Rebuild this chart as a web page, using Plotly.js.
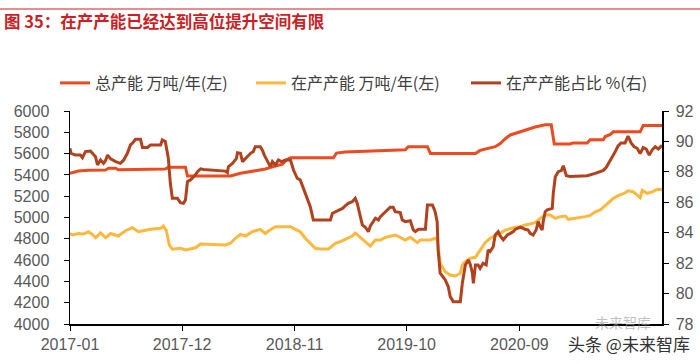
<!DOCTYPE html>
<html><head><meta charset="utf-8">
<script src="https://cdn.plot.ly/plotly-3.0.1.min.js"></script>
<style>html,body{margin:0;padding:0;background:#fff;}#chart{width:700px;height:363px;}</style>
</head><body><div id="chart"></div>
<script>
// 总产能 万吨/年(左)
const totalDates = ['2017-01-01','2017-01-17','2017-01-26','2017-02-25','2017-04-17','2017-04-26','2017-05-17','2017-05-25','2017-07-30','2017-08-05','2017-10-12','2017-10-21','2017-12-11','2017-12-17','2018-04-24','2018-05-24','2018-07-07','2018-08-06','2018-08-27','2018-09-26','2018-10-08','2018-10-20','2019-02-25','2019-03-06','2019-04-01','2019-07-15','2019-09-27','2019-10-06','2019-12-02','2019-12-11','2020-04-23','2020-05-07','2020-06-06','2020-06-21','2020-07-06','2020-07-21','2020-08-05','2020-08-20','2020-09-18','2020-10-18','2020-11-17','2020-12-05','2020-12-14','2021-01-30','2021-02-08','2021-03-22','2021-03-31','2021-05-09','2021-05-15','2021-05-30','2021-06-08','2021-08-27','2021-09-05','2021-10-31'];
const totalValues = [5415,5425,5437,5443,5446,5462,5462,5448,5448,5455,5455,5472,5472,5390,5390,5415,5437,5455,5475,5500,5540,5560,5560,5605,5615,5630,5635,5665,5665,5600,5600,5630,5655,5665,5695,5740,5775,5790,5820,5850,5870,5870,5690,5690,5700,5700,5730,5730,5760,5780,5805,5805,5865,5865];

// 在产产能 万吨/年(左)
const activeDates = ['2017-01-01','2017-01-08','2017-01-26','2017-02-10','2017-02-25','2017-03-09','2017-03-18','2017-04-02','2017-04-17','2017-05-02','2017-05-25','2017-06-15','2017-07-06','2017-07-24','2017-08-14','2017-08-29','2017-09-28','2017-10-06','2017-10-15','2017-10-24','2017-11-02','2017-11-26','2017-12-11','2018-01-10','2018-01-25','2018-03-25','2018-04-09','2018-04-24','2018-05-09','2018-05-24','2018-06-08','2018-06-28','2018-07-22','2018-08-06','2018-08-15','2018-09-05','2018-10-20','2018-11-04','2018-11-18','2018-12-03','2018-12-18','2019-01-02','2019-01-17','2019-02-10','2019-03-03','2019-03-18','2019-04-01','2019-04-22','2019-05-01','2019-05-10','2019-05-22','2019-06-03','2019-06-15','2019-06-30','2019-07-15','2019-07-30','2019-08-13','2019-08-28','2019-09-12','2019-09-27','2019-10-12','2019-10-21','2019-11-02','2019-11-11','2019-12-11','2019-12-25','2019-12-31','2020-01-09','2020-01-24','2020-02-08','2020-02-23','2020-03-09','2020-03-15','2020-03-24','2020-04-08','2020-04-23','2020-05-07','2020-05-22','2020-06-06','2020-06-21','2020-07-06','2020-07-21','2020-08-05','2020-08-20','2020-09-04','2020-09-18','2020-10-03','2020-10-18','2020-11-02','2020-11-17','2020-12-02','2020-12-17','2021-01-01','2021-01-16','2021-01-25','2021-02-14','2021-03-16','2021-03-31','2021-04-15','2021-04-30','2021-05-15','2021-05-30','2021-06-08','2021-06-22','2021-07-10','2021-07-22','2021-08-06','2021-08-18','2021-08-27','2021-09-02','2021-09-17','2021-10-02','2021-10-17','2021-10-31'];
const activeValues = [4850,4836,4850,4845,4866,4840,4810,4855,4810,4850,4826,4876,4904,4867,4880,4889,4898,4920,4880,4740,4702,4711,4695,4716,4751,4748,4742,4758,4805,4842,4826,4867,4889,4850,4873,4914,4914,4889,4866,4805,4758,4711,4704,4704,4758,4773,4795,4826,4855,4830,4790,4758,4732,4789,4789,4814,4826,4836,4814,4789,4814,4790,4764,4789,4789,4805,4790,4570,4491,4460,4451,4476,4554,4585,4617,4626,4695,4764,4805,4826,4851,4882,4898,4908,4914,4930,4939,4951,4992,5023,5023,4992,5008,5014,4983,4992,5008,5020,5054,5070,5110,5150,5180,5205,5227,5250,5242,5211,5185,5255,5227,5240,5265,5262];

// 在产产能占比 %(右)
const ratioDates = ['2017-01-01','2017-01-04','2017-01-17','2017-02-01','2017-02-07','2017-02-16','2017-03-03','2017-03-18','2017-03-24','2017-04-02','2017-04-11','2017-04-17','2017-04-23','2017-05-02','2017-05-17','2017-05-31','2017-06-09','2017-06-21','2017-06-30','2017-07-06','2017-07-15','2017-07-30','2017-08-05','2017-08-20','2017-08-29','2017-09-28','2017-10-03','2017-10-12','2017-10-21','2017-10-27','2017-11-02','2017-11-17','2017-11-26','2017-12-05','2017-12-11','2017-12-17','2017-12-26','2018-01-04','2018-01-10','2018-01-16','2018-01-25','2018-02-03','2018-02-23','2018-03-10','2018-04-09','2018-04-15','2018-04-18','2018-04-30','2018-05-12','2018-05-15','2018-05-24','2018-05-30','2018-06-08','2018-06-23','2018-07-01','2018-07-07','2018-07-22','2018-07-28','2018-08-03','2018-08-12','2018-08-21','2018-08-27','2018-09-05','2018-09-14','2018-09-23','2018-10-05','2018-10-20','2018-10-29','2018-11-09','2018-11-18','2018-11-27','2018-12-09','2018-12-18','2018-12-27','2019-02-16','2019-02-22','2019-03-03','2019-03-18','2019-03-24','2019-04-01','2019-04-10','2019-04-22','2019-05-01','2019-05-07','2019-05-16','2019-05-22','2019-05-31','2019-06-09','2019-06-15','2019-06-30','2019-07-09','2019-07-15','2019-07-30','2019-08-13','2019-08-22','2019-08-28','2019-09-12','2019-09-18','2019-09-27','2019-10-12','2019-10-21','2019-10-27','2019-11-05','2019-11-26','2019-12-02','2019-12-17','2019-12-25','2019-12-31','2020-01-03','2020-01-09','2020-01-24','2020-02-02','2020-02-08','2020-02-17','2020-03-09','2020-03-15','2020-03-24','2020-04-02','2020-04-08','2020-04-14','2020-04-17','2020-04-23','2020-05-01','2020-05-07','2020-05-16','2020-05-25','2020-05-31','2020-06-06','2020-06-15','2020-06-21','2020-06-30','2020-07-06','2020-07-15','2020-07-27','2020-08-05','2020-08-14','2020-08-20','2020-09-04','2020-09-18','2020-09-27','2020-10-03','2020-10-12','2020-10-21','2020-10-27','2020-11-02','2020-11-08','2020-11-11','2020-11-17','2020-11-23','2020-12-08','2020-12-11','2020-12-17','2020-12-26','2021-01-04','2021-01-10','2021-01-19','2021-01-30','2021-03-22','2021-04-15','2021-04-30','2021-05-09','2021-05-18','2021-05-27','2021-06-05','2021-06-13','2021-06-22','2021-07-01','2021-07-13','2021-07-22','2021-07-31','2021-08-09','2021-08-18','2021-08-27','2021-09-05','2021-09-14','2021-09-23','2021-10-02','2021-10-11','2021-10-20','2021-10-31'];
const ratioValues = [89.55,89.22,89.1,89.1,88.93,89.33,89.37,89.0,88.45,88.78,88.56,88.75,89.1,88.85,88.67,88.56,88.75,89.22,89.77,89.88,90.14,90.14,89.6,89.6,89.77,89.77,90.1,90.0,88.9,87.25,86.26,86.26,85.98,85.93,86.15,87.36,87.47,87.64,87.8,88.01,88.2,88.15,88.12,88.06,88.05,87.95,88.34,88.56,88.89,89.26,89.22,88.67,88.89,89.22,89.33,89.65,89.65,89.44,89.1,88.67,88.34,88.67,88.45,88.78,88.67,88.78,88.78,88.12,87.58,87.47,86.92,86.26,85.71,84.84,84.84,85.28,85.38,85.5,85.6,85.76,85.93,86.04,86.26,85.93,85.0,84.51,84.36,84.07,84.44,84.95,84.84,85.06,85.38,85.67,85.67,85.38,85.32,84.84,84.73,84.79,84.18,84.07,84.23,84.23,85.82,85.82,85.38,84.73,82.87,81.34,80.9,80.46,79.8,79.47,79.47,80.68,81.88,82.21,81.9,81.34,80.68,81.88,81.88,81.66,81.99,81.88,82.87,82.76,83.08,83.85,84.07,83.79,83.53,83.85,83.96,84.07,84.23,84.36,84.23,84.18,83.96,83.85,84.18,84.73,84.4,84.18,84.73,85.38,85.5,85.6,86.59,87.68,88.01,88.08,88.4,87.75,87.7,87.75,87.9,88.0,88.1,88.3,88.7,89.0,89.3,89.7,89.9,89.9,90.35,89.9,89.65,89.55,89.2,89.6,89.5,89.1,89.45,89.65,89.5,89.75];

const seriesNames = ['总产能 万吨/年(左)', '在产产能 万吨/年(左)', '在产产能占比 %(右)'];
const xTickVals = ['2017-01-01','2017-12-01','2018-11-01','2019-10-01','2020-09-01'];
const xTickText = ['2017-01','2017-12','2018-11','2019-10','2020-09'];
const titleText = '图 35：在产产能已经达到高位提升空间有限';
const watermarkText = '头条 @未来智库';
const logoText = '未来智库';

const tickFont = {family: 'Liberation Sans, Arial, sans-serif', size: 16, color: '#595959'};
const cjk = 'Noto Sans CJK SC, sans-serif';

const traces = [
  {x: totalDates, y: totalValues, name: seriesNames[0], type: 'scatter', mode: 'lines',
   line: {color: '#EE4A1F', width: 3}, yaxis: 'y', legend: 'legend'},
  {x: activeDates, y: activeValues, name: seriesNames[1], type: 'scatter', mode: 'lines',
   line: {color: '#FFB83D', width: 3}, yaxis: 'y', legend: 'legend2'},
  {x: ratioDates, y: ratioValues, name: seriesNames[2], type: 'scatter', mode: 'lines',
   line: {color: '#B2421E', width: 3}, yaxis: 'y2', legend: 'legend3'}
];

function legendAt(px) {
  return {orientation: 'h', xref: 'container', yref: 'container', x: px/700, xanchor: 'left', y: 1 - 83/363, yanchor: 'middle',
          font: {family: cjk, size: 16, color: '#404040'}, bgcolor: 'rgba(0,0,0,0)'};
}

const layout = {
  width: 700, height: 363,
  margin: {l: 70, r: 38, t: 111, b: 39, pad: 0},
  paper_bgcolor: '#fff', plot_bgcolor: '#fff',
  showlegend: true,
  title: {text: titleText, x: 4/700, xanchor: 'left', xref: 'container', y: 1 - 22/363, yanchor: 'middle', yref: 'container',
          font: {family: cjk, size: 16.5, color: '#CC1E24', weight: 'bold'}},
  legend: legendAt(55),
  legend2: legendAt(251),
  legend3: legendAt(466),
  xaxis: {type: 'date', tickvals: xTickVals, ticktext: xTickText, showgrid: false, zeroline: false,
          showline: true, linecolor: '#000', linewidth: 1.5, ticks: 'outside', ticklen: 5, tickcolor: '#000',
          tickfont: tickFont, autorange: true},
  yaxis: {range: [4000, 6000], dtick: 200, showgrid: false, zeroline: false, showline: true, linecolor: '#000', linewidth: 1.5,
          ticks: 'outside', ticklen: 5, tickcolor: '#000', tickfont: tickFont, ticklabelstandoff: 11},
  yaxis2: {range: [78, 92], dtick: 2, overlaying: 'y', side: 'right', showgrid: false, zeroline: false, showline: true,
           linecolor: '#000', linewidth: 1.5, ticks: 'outside', ticklen: 5, tickcolor: '#000', tickfont: tickFont, ticklabelstandoff: 4},
  shapes: [{type: 'line', xref: 'paper', yref: 'paper', x0: -70/592, x1: 630/592, y0: 1 + 102/213, y1: 1 + 102/213,
            line: {color: '#CC1E24', width: 1}}],
  annotations: [
    {text: watermarkText, xref: 'paper', yref: 'paper', x: 1.05, y: -0.09, xanchor: 'right', yanchor: 'middle',
     showarrow: false, font: {family: cjk, size: 17, color: '#333'}},
    {text: logoText, xref: 'paper', yref: 'paper', x: 0.985, y: 0.01, xanchor: 'right', yanchor: 'middle',
     showarrow: false, font: {family: cjk, size: 14, color: 'rgba(150,150,150,0.6)'}}
  ]
};

Plotly.newPlot('chart', traces, layout, {displayModeBar: false, staticPlot: true});
</script></body></html>
